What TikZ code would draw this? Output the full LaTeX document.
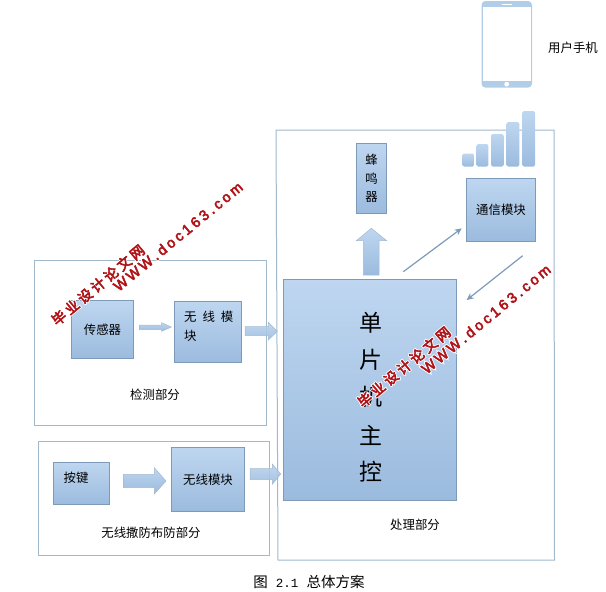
\documentclass[tikz,border=0pt]{standalone}
\usepackage{fontspec}
\setmainfont{Noto Sans CJK SC}
\newfontfamily\wmfont[FakeBold=4]{Noto Sans CJK SC}
\newfontfamily\wmfonthalo[FakeBold=16]{Noto Sans CJK SC}
\newfontfamily\wmlat[FakeBold=3.5]{Liberation Sans}
\newfontfamily\wmlathalo[FakeBold=16]{Liberation Sans}
\newfontfamily\capfont{Liberation Mono}
\usetikzlibrary{arrows.meta}
\definecolor{boxtop}{RGB}{190,214,240}
\definecolor{boxbot}{RGB}{155,187,222}
\definecolor{boxline}{RGB}{125,155,185}
\definecolor{frameline}{RGB}{160,185,205}
\definecolor{wmred}{RGB}{176,20,24}
\definecolor{phoneblue}{RGB}{178,205,232}
\newcommand{\wmcntext}{毕\hspace{3pt}业\hspace{3pt}设\hspace{3pt}计\hspace{3pt}论\hspace{3pt}文\hspace{3pt}网}
\newcommand{\wmentext}{W\hspace{2.5pt}W\hspace{2.5pt}W\hspace{3pt}.\hspace{3pt}d\hspace{3pt}o\hspace{3pt}c\hspace{3pt}1\hspace{3pt}6\hspace{3pt}3\hspace{3pt}.\hspace{3pt}c\hspace{3pt}o\hspace{3pt}m}
\newcommand{\halocn}{\rlap{\wmfonthalo\textcolor{white}{\wmcntext}}{\wmfont\textcolor{wmred}{\wmcntext}}}
\newcommand{\haloen}{\rlap{\wmlathalo\textcolor{white}{\wmentext}}{\wmlat\textcolor{wmred}{\wmentext}}}
\tikzset{
  frame/.style={draw=frameline,line width=1pt},
  blockfill/.style={draw=boxline,line width=.7pt,top color=boxtop,bottom color=boxbot},
  arrowfill/.style={draw=boxline!70,line width=.5pt,top color=boxtop,bottom color=boxbot},
  sidearrow/.style={draw=boxline!70,line width=.5pt,top color=boxtop!90!boxbot,bottom color=boxbot,fill opacity=.9},
  linearrow/.style={draw=boxline,line width=1.2pt,-{Stealth[length=7pt,width=6.5pt]}},
  bar/.style={rounded corners=1.5pt,top color=boxtop,bottom color=boxbot},
  label/.style={font=\fontsize{12.4}{15}\selectfont,inner sep=0pt,text=black},
  chipchar/.style={font=\fontsize{23}{26}\selectfont,inner sep=0pt},
  wmcn/.style={font=\fontsize{14}{17}\selectfont,inner sep=0pt,rotate=40},
  wmen/.style={font=\fontsize{14.5}{17}\selectfont,inner sep=0pt,rotate=39.5},
}
\begin{document}
\begin{tikzpicture}[x=1pt,y=-1pt]
\useasboundingbox (0,0) rectangle (606,592);
% frames
\draw[frame] (276,130) -- (554,130) -- (554.5,560) -- (278,560) -- cycle;
\draw[frame] (34.7,260.7) rectangle (266,425);
\draw[frame] (38,441) rectangle (269,555.7);
% phone
\fill[phoneblue,rounded corners=4pt] (481.5,1) rectangle (532,87.7);
\fill[white] (482.7,7) rectangle (530.8,81);
\draw[white,line width=.5pt] (501.7,4.3) -- (511.7,4.3);
\fill[white] (506.7,84.2) circle (2.4);
\node[label] (phonelabel) at (573,47.5) {用户手机};
% signal bars
\shade[bar] (462.3,153.5) rectangle (474,166.5);
\shade[bar] (476.7,144) rectangle (488.3,166.5);
\shade[bar] (491,134) rectangle (503.7,166.5);
\shade[bar] (506.7,122) rectangle (519.3,166.5);
\shade[bar] (522.3,111) rectangle (535,166.5);
% blocks
\node[blockfill,minimum width=30.4pt,minimum height=70pt,inner sep=0pt,align=center,font=\fontsize{12.4}{18.5}\selectfont] (buzzer) at (371.5,178.3) {蜂\\鸣\\器};
\node[blockfill,label,minimum width=69.4pt,minimum height=63.4pt] (comm) at (501,210) {通信模块};
\node[blockfill,minimum width=173.4pt,minimum height=221.4pt] (mcu) at (370,390) {};
\node[chipchar] (c1) at (371,323) {单};
\node[chipchar] (c2) at (371,360) {片};
\node[chipchar] (c3) at (371,397) {机};
\node[chipchar] (c4) at (371,435) {主};
\node[chipchar] (c5) at (371,472) {控};
\node[blockfill,label,minimum width=62.4pt,minimum height=58.4pt] (sensor) at (102.5,329.5) {传感器};
\node[blockfill,minimum width=67.4pt,minimum height=61.4pt] (wl1) at (208,332) {};
\node[label,anchor=west] (wl1a) at (184,317) {无\hspace{6pt}线\hspace{6pt}模};
\node[label,anchor=west] (wl1b) at (184,335.7) {块};
\node[label] (detect) at (155,394.7) {检测部分};
\node[blockfill,minimum width=56.4pt,minimum height=42pt] (key) at (81.5,483.3) {};
\node[label] (keylabel) at (76,477.7) {按键};
\node[blockfill,label,minimum width=73.4pt,minimum height=64.4pt] (wl2) at (208,479.5) {无线模块};
\node[label] (arm) at (151,532.7) {无线撒防布防部分};
\node[label] (proc) at (415,525) {处理部分};
\node[inner sep=0pt,font=\fontsize{14.5}{17}\selectfont] (cap) at (309,582) {图\hspace{8pt}{\capfont\fontsize{12.5}{15}\selectfont 2.1}\hspace{8pt}总体方案};
% block arrows
\shade[arrowfill] (371.3,228.3) -- (386.7,240.7) -- (379,240.7) -- (379,275) -- (363.3,275) -- (363.3,240.7) -- (356.3,240.7) -- cycle;
\shade[arrowfill] (139.3,325) -- (161.7,325) -- (161.7,322.7) -- (171.3,327) -- (161.7,331.3) -- (161.7,329.7) -- (139.3,329.7) -- cycle;
\shade[sidearrow] (245,326.7) -- (268.3,326.7) -- (268.3,322.3) -- (277.3,331.3) -- (268.3,340) -- (268.3,335.7) -- (245,335.7) -- cycle;
\shade[arrowfill] (123.3,474.3) -- (154.3,474.3) -- (154.3,467.7) -- (166,481) -- (154.3,494) -- (154.3,487.7) -- (123.3,487.7) -- cycle;
\shade[sidearrow] (250,468.7) -- (272.3,468.7) -- (272.3,464) -- (280.7,474) -- (272.3,484.3) -- (272.3,479.7) -- (250,479.7) -- cycle;
% line arrows
\coordinate (la) at (403.3,271.7);
\coordinate (lb) at (461.7,228.3);
\coordinate (lc) at (522.7,255.7);
\coordinate (ld) at (466.7,300);
\draw[linearrow] (la) -- (lb);
\draw[linearrow] (lc) -- (ld);
% watermarks
\node[wmcn] (w1) at (98,285) {\halocn};
\node[wmen] (w2) at (178,236.5) {\haloen};
\node[wmcn] (w3) at (404,367) {\halocn};
\node[wmen] (w4) at (486,319) {\haloen};
\end{tikzpicture}
\end{document}
